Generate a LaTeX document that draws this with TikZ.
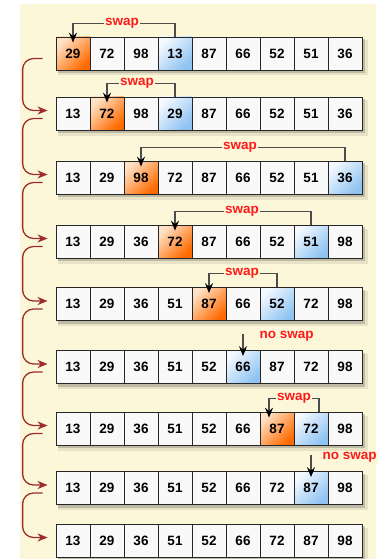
\documentclass[tikz,border=0pt]{standalone}
\usepackage{fontspec}
\setmainfont{Liberation Sans}
\usetikzlibrary{arrows.meta,calc}
\definecolor{panel}{HTML}{FCF7D9}
\definecolor{minhi}{HTML}{FF6A00}
\definecolor{minlo}{HTML}{FFE2C6}
\definecolor{curhi}{HTML}{8FC3F2}
\definecolor{curlo}{HTML}{F4F9FF}
\definecolor{passred}{HTML}{9B2D2D}
\definecolor{swapred}{HTML}{FF1A1A}
\tikzset{
  cell/.style={draw=black!85, line width=0.8pt, fill=gray!5,
    minimum width=34pt, minimum height=33pt, inner sep=0pt,
    font=\fontsize{13.5}{15}\selectfont\bfseries},
  mincell/.style={cell, top color=minlo, bottom color=minhi, shading angle=45},
  curcell/.style={cell, top color=curlo, bottom color=curhi, shading angle=45},
  swapline/.style={draw=black!70, line width=1.1pt,
    -{Stealth[length=10pt, width=8pt, inset=3.5pt, color=black]}},
  swaplabel/.style={fill=panel, inner sep=1.5pt, text=swapred,
    font=\fontsize{13.5}{15}\selectfont\bfseries},
  passarrow/.style={draw=passred, line width=1.3pt, rounded corners=11pt,
    -{Stealth[length=10pt, width=8pt, inset=3pt]}}
}
\begin{document}
\begin{tikzpicture}[x=1pt, y=-1pt]
  \useasboundingbox (0,0) rectangle (379,559);
  \fill[panel] (20,4) rectangle (376,559);
  % the nine passes, with their shadows
  \foreach \rw/\yc/\om/\bm/\vals in {
      1/53.5/1/4/{29,72,98,13,87,66,52,51,36},
      2/113.5/2/4/{13,72,98,29,87,66,52,51,36},
      3/177.5/3/9/{13,29,98,72,87,66,52,51,36},
      4/241.5/4/8/{13,29,36,72,87,66,52,51,98},
      5/304/5/7/{13,29,36,51,87,66,52,72,98},
      6/367/0/6/{13,29,36,51,52,66,87,72,98},
      7/428.5/7/8/{13,29,36,51,52,66,87,72,98},
      8/488/0/8/{13,29,36,51,52,66,72,87,98},
      9/540.5/0/0/{13,29,36,51,52,66,72,87,98}}{
    \fill[black, opacity=.08] (58,\yc-13) rectangle (368,\yc+22);
    \fill[black, opacity=.18] (58,\yc-14.5) rectangle (365,\yc+19.5);
    \foreach \v [count=\k] in \vals {
      \def\cellkind{cell}
      \ifnum\k=\om \def\cellkind{mincell}\fi
      \ifnum\k=\bm \def\cellkind{curcell}\fi
      \node[\cellkind] (r\rw c\k) at (39+34*\k, \yc) {\v};
    }
  }
  % swaps
  \draw[swapline] (r1c4.north) -- ++(0,-13.5) -| ([yshift=-6pt]r1c1.north);
  \node[swaplabel] (s1) at ($(r1c1.north)!.5!(r1c4.north)+(-2,-13.5)$) {swap};
  \draw[swapline] (r2c4.north) -- ++(0,-13.5) -| ([yshift=-6pt]r2c2.north);
  \node[swaplabel] (s2) at ($(r2c2.north)!.5!(r2c4.north)+(-4,-13.5)$) {swap};
  \draw[swapline] (r3c9.north) -- ++(0,-13.5) -| ([yshift=-6pt]r3c3.north);
  \node[swaplabel] (s3) at ($(r3c3.north)!.5!(r3c9.north)+(-3,-13.5)$) {swap};
  \draw[swapline] (r4c8.north) -- ++(0,-13.5) -| ([yshift=-6pt]r4c4.north);
  \node[swaplabel] (s4) at ($(r4c4.north)!.5!(r4c8.north)+(-1,-13.5)$) {swap};
  \draw[swapline] (r5c7.north) -- ++(0,-13.5) -| ([yshift=-6pt]r5c5.north);
  \node[swaplabel] (s5) at ($(r5c5.north)!.5!(r5c7.north)+(-1,-13.5)$) {swap};
  \draw[swapline] ([xshift=8pt]r7c8.north) -- ++(0,-13.5) -| ([xshift=-8pt, yshift=-6pt]r7c7.north);
  \node[swaplabel] (s7) at ($(r7c7.north)!.5!(r7c8.north)+(0,-13.5)$) {swap};
  % no swaps
  \coordinate (n6) at ([yshift=16pt]r6c6.north);
  \draw[swapline] (n6) -- ([yshift=-6pt]r6c6.north);
  \node[swaplabel, anchor=west] (l6) at ([xshift=15pt, yshift=-2.5pt]n6) {no swap};
  \coordinate (n8) at ([yshift=16pt]r8c8.north);
  \draw[swapline] (n8) -- ([yshift=-6pt]r8c8.north);
  \node[swaplabel, anchor=west] (l8) at ([xshift=10pt, yshift=-2.5pt]n8) {no swap};
  % from one pass to the next
  \foreach \a [evaluate=\a as \nx using int(\a+1)] in {1,...,8}
    \draw[passarrow] ([xshift=-13pt, yshift=-5pt]r\a c1.west)
      -| ([xshift=-33pt, yshift=3pt]r\nx c1.west)
      -- ([xshift=-8pt, yshift=3pt]r\nx c1.west);
\end{tikzpicture}
\end{document}
